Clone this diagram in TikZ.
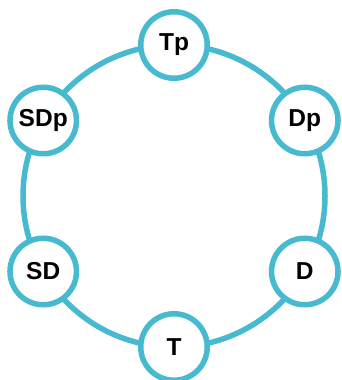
\documentclass[tikz,border=0pt]{standalone}
\usepackage{fontspec}
\setmainfont{Liberation Sans}
\usetikzlibrary{calc}
\definecolor{ringblue}{RGB}{72,186,207}
\begin{document}
\begin{tikzpicture}[x=1pt,y=1pt,
  chord/.style={circle,draw=ringblue,line width=5.5pt,fill=white,
    minimum size=66.5pt,inner sep=0pt,font=\fontsize{24.5pt}{26pt}\selectfont\bfseries},
  ring/.style={draw=ringblue,line width=5.5pt}]
  \useasboundingbox (0,0) rectangle (341,380);
  \coordinate (c) at (174,184);
  \draw[ring] (c) circle (151);
  \node[chord] (Tp)  at ($(c)+(90:151)$)  {Tp};
  \node[chord] (Dp)  at ($(c)+(30:151)$)  {Dp};
  \node[chord] (D)   at ($(c)+(-30:151)$) {D};
  \node[chord] (T)   at ($(c)+(-90:151)$) {T};
  \node[chord] (SD)  at ($(c)+(-150:151)$) {SD};
  \node[chord] (SDp) at ($(c)+(150:151)$) {SDp};
\end{tikzpicture}
\end{document}
